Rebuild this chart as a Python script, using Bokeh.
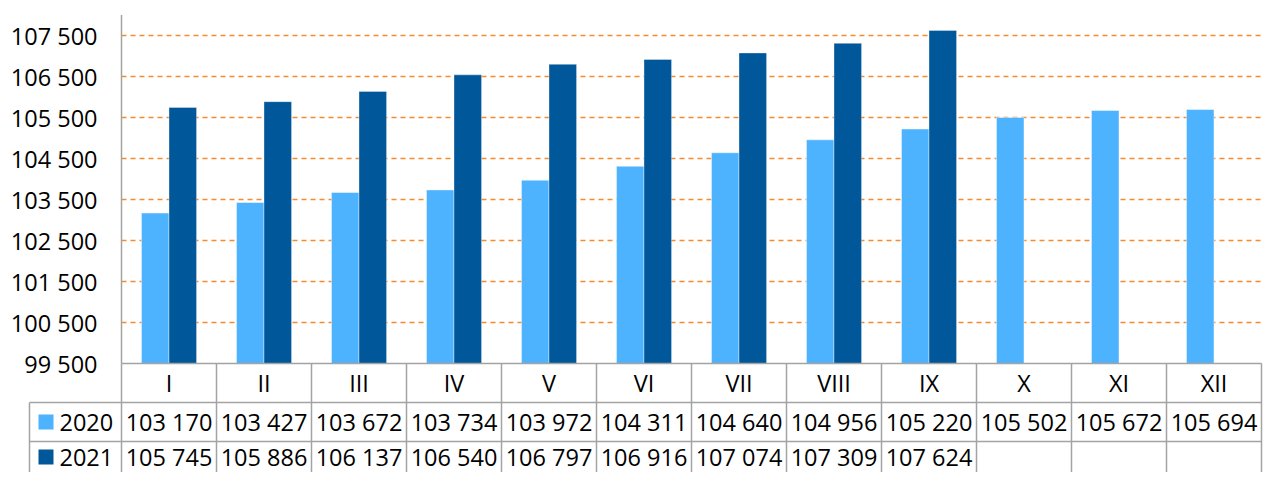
from bokeh.plotting import figure
from bokeh.models import Range1d, ColumnDataSource
from bokeh.core.properties import value
from bokeh.embed import file_html
from bokeh.resources import INLINE

# ---------------- data ----------------
months = ["I", "II", "III", "IV", "V", "VI", "VII", "VIII", "IX", "X", "XI", "XII"]
series_2020 = [103170, 103427, 103672, 103734, 103972, 104311, 104640, 104956, 105220, 105502, 105672, 105694]
series_2021 = [105745, 105886, 106137, 106540, 106797, 106916, 107074, 107309, 107624]
years = ["2020", "2021"]
y_ticks = [99500, 100500, 101500, 102500, 103500, 104500, 105500, 106500, 107500]
y_min, y_max = 99500, 108000

# ---------------- styling / layout ----------------
C2020 = "#4DB3FF"
C2021 = "#00579A"
GRID = "#F58A2E"
BORDER = "#A3A3A3"
TXT = "#000000"
FONT = value("Open Sans")
FS = "23.5px"

W, H = 1263, 472
px_per_cat = 95.0           # pixels per category
px_per_unit = 0.041         # pixels per value unit
plot_left_px = 121          # px where x = -0.5
top_tick_px = 35            # px where y = 107500

x0 = -0.5 - plot_left_px / px_per_cat
x1 = x0 + W / px_per_cat
ytop = 107500 + top_tick_px / px_per_unit
ybot = ytop - H / px_per_unit

p = figure(width=W, height=H, output_backend="svg", toolbar_location=None,
           x_range=Range1d(x0, x1), y_range=Range1d(ybot, ytop),
           min_border=0, min_border_left=0, min_border_right=0,
           min_border_top=0, min_border_bottom=0)
p.xaxis.visible = False
p.yaxis.visible = False
p.xgrid.visible = False
p.ygrid.visible = False
p.outline_line_color = None
p.background_fill_color = "white"

n = len(months)
xs = list(range(n))
x_left_edge = -0.5
x_right_edge = n - 0.5
table_left = -0.5 - 92 / px_per_cat

# gridlines (dashed orange), skipping the baseline
grid_vals = [t for t in y_ticks if t > y_min]
p.segment(x0=[x_left_edge] * len(grid_vals), x1=[x_right_edge] * len(grid_vals),
          y0=grid_vals, y1=grid_vals, line_color=GRID, line_width=1.3, line_dash="5 4")

# bars
dodge = 0.145
bw = 0.29
src20 = ColumnDataSource(dict(x=[i - dodge for i in xs], top=series_2020))
src21 = ColumnDataSource(dict(x=[i + dodge for i in range(len(series_2021))], top=series_2021))
p.vbar(x="x", top="top", bottom=y_min, width=bw, source=src20,
       fill_color=C2020, line_color="white", line_alpha=0.45, line_width=1)
p.vbar(x="x", top="top", bottom=y_min, width=bw, source=src21,
       fill_color=C2021, line_color="white", line_alpha=0.35, line_width=1)

# y axis line
p.segment(x0=[x_left_edge], x1=[x_left_edge], y0=[y_min], y1=[y_max],
          line_color=BORDER, line_width=1.5)

def fmt(v):
    return f"{v:,}".replace(",", " ")

# y tick labels
tick_x = -0.5 - 24 / px_per_cat
p.text(x=[tick_x] * len(y_ticks), y=y_ticks, text=[fmt(t) for t in y_ticks],
       text_align="right", text_baseline="middle", text_font=FONT,
       text_font_size=FS, text_color=TXT)

# ---------------- data table ----------------
row_h = 39.0 / px_per_unit   # table row height in value units
ybase = y_min
y_rows = [ybase - row_h * k for k in range(4)]

# horizontal borders
p.segment(x0=[x_left_edge], x1=[x_right_edge], y0=[y_rows[0]], y1=[y_rows[0]],
          line_color=BORDER, line_width=1.5)
p.segment(x0=[table_left] * 3, x1=[x_right_edge] * 3, y0=y_rows[1:], y1=y_rows[1:],
          line_color=BORDER, line_width=1.5)
# vertical borders
vx = [i - 0.5 for i in range(n + 1)]
p.segment(x0=vx, x1=vx, y0=[y_rows[0]] * len(vx), y1=[y_rows[3]] * len(vx),
          line_color=BORDER, line_width=1.5)
p.segment(x0=[table_left], x1=[table_left], y0=[y_rows[1]], y1=[y_rows[3]],
          line_color=BORDER, line_width=1.5)

# header
p.text(x=xs, y=[ybase - row_h / 2] * n, text=months, text_align="center",
       text_baseline="middle", text_font=FONT, text_font_size=FS, text_color=TXT)

row1_y = ybase - 1.5 * row_h
row2_y = ybase - 2.5 * row_h + 4 / px_per_unit
p.text(x=xs, y=[row1_y] * n, text=[fmt(v) for v in series_2020],
       text_align="center", text_baseline="middle", text_font=FONT,
       text_font_size=FS, text_color=TXT)
p.text(x=list(range(len(series_2021))), y=[row2_y] * len(series_2021),
       text=[fmt(v) for v in series_2021],
       text_align="center", text_baseline="middle", text_font=FONT,
       text_font_size=FS, text_color=TXT)

# legend column
sq_x = -0.5 - (121 - 45.5) / px_per_cat
yr_x = -0.5 - (121 - 59) / px_per_cat
p.scatter(x=[sq_x, sq_x], y=[row1_y, row2_y], marker="square",
          size=15, fill_color=[C2020, C2021], line_color=None)
p.text(x=[yr_x, yr_x], y=[row1_y, row2_y], text=years,
       text_align="left", text_baseline="middle", text_font=FONT,
       text_font_size=FS, text_color=TXT)

open("out.html", "w").write(file_html(p, INLINE))
